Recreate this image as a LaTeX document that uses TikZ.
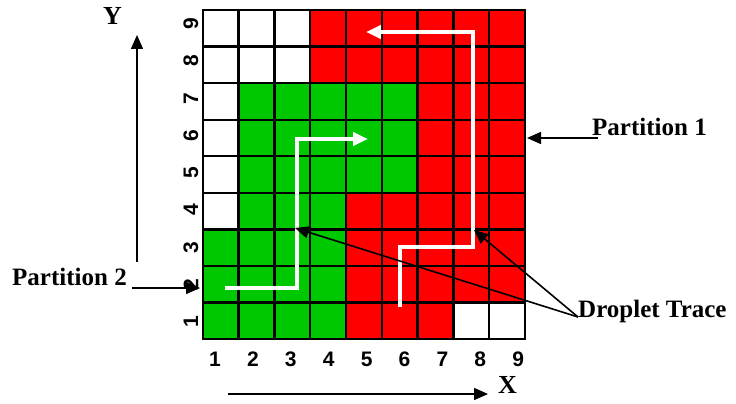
\documentclass[tikz,border=0pt]{standalone}
\usepackage{fontspec}
\setmainfont{Liberation Serif}
\newfontfamily\digitfont{Liberation Sans}
\usetikzlibrary{arrows.meta}
\definecolor{gred}{RGB}{255,0,0}
\definecolor{ggreen}{RGB}{0,200,0}
\tikzset{
  lbl/.style={inner sep=0pt, font=\bfseries\fontsize{25}{25}\selectfont},
  axlbl/.style={inner sep=0pt, font=\bfseries\fontsize{26}{26}\selectfont},
  dig/.style={inner sep=0pt, font=\digitfont\bfseries\fontsize{21}{21}\selectfont},
  pointer/.style={line width=1.6pt, -{Triangle[length=14pt,width=12pt]}},
  trace/.style={white, line width=4pt, -{Triangle[length=15pt,width=13pt]}},
  gridline/.style={line width=2.4pt, line cap=rect},
}
\begin{document}
\begin{tikzpicture}[x=1pt,y=-1pt]
\useasboundingbox (0,0) rectangle (736,404);
% grid
\begin{scope}[shift={(202.7,339)}, x=35.8pt, y=36.55pt]
  \fill[white] (0,0) rectangle (9,9);
  \fill[gred] (3,7) rectangle (9,9);
  \fill[gred] (6,4) rectangle (9,7);
  \fill[gred] (4,1) rectangle (9,4);
  \fill[gred] (4,0) rectangle (7,1);
  \fill[ggreen] (1,4) rectangle (6,7);
  \fill[ggreen] (1,3) rectangle (4,4);
  \fill[ggreen] (0,0) rectangle (4,3);
  \foreach \k in {0,...,9}{
    \draw[gridline] (\k,0) -- (\k,9);
    \draw[gridline] (0,\k) -- (9,\k);
  }
\end{scope}
% axis labels
\foreach \i in {1,...,9}{
  \node[dig] (xl\i) at ({215+37.9*(\i-1)},359) {\i};
  \node[dig, rotate=90] (yl\i) at (191,{322-37.3*(\i-1)}) {\i};
}
% white traces
\coordinate (t1a) at (400,307);
\coordinate (t1b) at (400,247);
\coordinate (t1c) at (472.7,247);
\coordinate (t1d) at (472.7,32);
\coordinate (t1e) at (366,32);
\draw[trace] (t1a) -- (t1b) -- (t1c) -- (t1d) -- (t1e);
\coordinate (t2a) at (225,288);
\coordinate (t2b) at (296.7,288);
\coordinate (t2c) at (296.7,139);
\coordinate (t2d) at (368,139);
\draw[trace] (t2a) -- (t2b) -- (t2c) -- (t2d);
% text labels
\node[axlbl, anchor=base west] (Y) at (103,25) {Y};
\node[axlbl, anchor=base west] (X) at (498,393) {X};
\node[lbl, anchor=base west] (p1) at (592,135) {Partition 1};
\node[lbl, anchor=base west] (p2) at (12,285) {Partition 2};
\node[lbl, anchor=base west] (dt) at (578,317) {Droplet Trace};
% pointers
\coordinate (ya) at (137,262);
\coordinate (yb) at (137,35);
\draw[pointer] (ya) -- (yb);
\coordinate (xa) at (228,394);
\coordinate (xb) at (488,394);
\draw[pointer] (xa) -- (xb);
\coordinate (p1a) at (598,138);
\coordinate (p1b) at (527,138);
\draw[pointer] (p1a) -- (p1b);
\coordinate (p2a) at (132,288);
\coordinate (p2b) at (200,288);
\draw[pointer] (p2a) -- (p2b);
\coordinate (dta) at (578,317);
\coordinate (dtb) at (295,228);
\coordinate (dtc) at (474,230);
\draw[pointer] (dta) -- (dtb);
\draw[pointer] (dta) -- (dtc);
\end{tikzpicture}
\end{document}
